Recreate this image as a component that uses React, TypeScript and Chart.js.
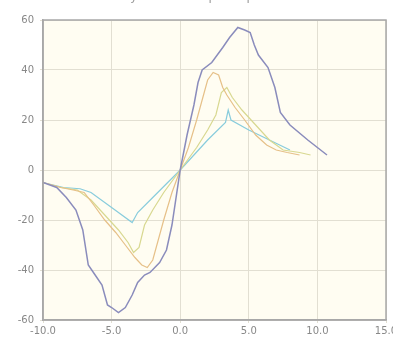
import React, { useEffect, useRef } from "react";
import { Chart, registerables } from "chart.js";

Chart.register(...registerables);

const TITLE = "Hysteresis Loop Sample";

const blueX = [-10, -9, -8.3, -7.6, -7.1, -6.7, -6.2, -5.7, -5.3, -5.0, -4.5, -4.0, -3.5, -3.1, -2.6, -2.2, -1.5, -1.0, -0.6, 0, 0.5, 1.0, 1.3, 1.6, 2.3, 3.1, 3.6, 4.2, 4.7, 5.1, 5.4, 5.7, 6.4, 6.9, 7.3, 8.0, 9.3, 10.7];
const blueY = [-5, -7, -11, -16, -24, -38, -42, -46, -54, -55, -57, -55, -50, -45, -42, -41, -37, -32, -22, 0, 14, 26, 35, 40, 43, 49, 53, 57, 56, 55, 50, 46, 41, 33, 23, 18, 12, 6];

const orangeX = [-10, -8.7, -7.8, -7.0, -6.3, -5.5, -4.7, -4.0, -3.3, -2.8, -2.4, -2.0, -1.6, -1.2, -0.6, 0, 0.6, 1.2, 1.6, 2.0, 2.4, 2.8, 3.1, 3.4, 4.0, 4.7, 5.5, 6.3, 7.0, 7.8, 8.7];
const orangeY = [-5, -7, -8, -9, -14, -20, -25, -30, -35, -38, -39, -36, -28, -20, -9, 0, 9, 20, 28, 36, 39, 38, 33, 30, 25, 20, 14, 10, 8, 7, 6];

const yellowX = [-10, -8.7, -7.5, -6.5, -5.5, -4.5, -3.8, -3.4, -3.0, -2.6, -2.0, -1.2, 0, 1.2, 2.0, 2.6, 3.0, 3.4, 3.8, 4.5, 5.5, 6.5, 7.5, 8.7, 9.5];
const yellowY = [-5, -7, -8, -12, -18, -24, -29, -33, -31, -22, -16, -9, 0, 9, 16, 22, 31, 33, 29, 24, 18, 12, 8, 7, 6];

const cyanX = [-10, -8.5, -7.3, -6.5, -5.0, -3.5, -3.1, -2.0, 0, 2.0, 3.3, 3.5, 3.7, 5.0, 6.5, 8.0];
const cyanY = [-5, -7, -7.5, -9, -15, -21, -17, -11, 0, 12, 19, 24, 20, 16, 12, 8];

const X_TICKS = [-10, -5, 0, 5, 10, 15];
const Y_TICKS = [-60, -40, -20, 0, 20, 40, 60];

const toPts = (xs: number[], ys: number[]) => xs.map((x, i) => ({ x, y: ys[i] }));

const framePlugin = {
  id: "frame",
  beforeDraw(chart: any) {
    const { ctx, chartArea: a } = chart;
    ctx.save();
    ctx.fillStyle = "#fffdf2";
    ctx.fillRect(a.left, a.top, a.right - a.left, a.bottom - a.top);
    ctx.restore();
  },
  afterDatasetsDraw(chart: any) {
    const { ctx, chartArea: a } = chart;
    ctx.save();
    ctx.strokeStyle = "#a8a8a8";
    ctx.lineWidth = 1.5;
    ctx.strokeRect(a.left, a.top, a.right - a.left, a.bottom - a.top);
    ctx.restore();
  },
};

export default function App() {
  const ref = useRef<HTMLCanvasElement | null>(null);
  useEffect(() => {
    if (!ref.current) return;
    const mk = (label: string, xs: number[], ys: number[], color: string, w: number) => ({
      label,
      data: toPts(xs, ys),
      showLine: true,
      borderColor: color,
      backgroundColor: color,
      borderWidth: w,
      pointRadius: 0,
      tension: 0,
      fill: false,
    });
    const chart = new Chart(ref.current, {
      type: "scatter",
      data: {
        datasets: [
          mk("A", blueX, blueY, "#8a8cbc", 1.5),
          mk("B", orangeX, orangeY, "#e6c088", 1.2),
          mk("C", yellowX, yellowY, "#d8d890", 1.2),
          mk("D", cyanX, cyanY, "#88ccdc", 1.2),
        ],
      },
      options: {
        responsive: false,
        animation: false,
        layout: { padding: { top: 0, right: 14, bottom: 5, left: 0 } },
        plugins: {
          legend: { display: false },
          tooltip: { enabled: false },
          title: {
            display: true,
            text: TITLE,
            color: "#9a9a9a",
            font: { family: "DejaVu Sans", size: 12, weight: "normal", lineHeight: 1.2 },
            padding: { top: 0, bottom: 15.6 },
          },
        },
        scales: {
          x: {
            type: "linear",
            min: -10,
            max: 15,
            afterBuildTicks: (s: any) => {
              s.ticks = X_TICKS.map((v) => ({ value: v }));
            },
            afterFit: (s: any) => {
              s.height = 25;
            },
            ticks: {
              color: "#888",
              font: { family: "DejaVu Sans", size: 10 },
              padding: 2,
              maxRotation: 0,
              callback: (v: any) => Number(v).toFixed(1),
            },
            grid: { color: "#e2dfd2", tickLength: 3, drawTicks: true },
            border: { color: "#a8a8a8", width: 1.5 },
          },
          y: {
            type: "linear",
            min: -60,
            max: 60,
            afterBuildTicks: (s: any) => {
              s.ticks = Y_TICKS.map((v) => ({ value: v }));
            },
            afterFit: (s: any) => {
              s.width = 43;
            },
            ticks: {
              color: "#888",
              font: { family: "DejaVu Sans", size: 10 },
              padding: 6,
              callback: (v: any) => String(v),
            },
            grid: { color: "#e2dfd2", tickLength: 3, drawTicks: true },
            border: { color: "#a8a8a8", width: 1.5 },
          },
        },
      },
      plugins: [framePlugin],
    });
    return () => chart.destroy();
  }, []);
  return (
    <div style={{ position: "fixed", left: 0, top: 0, width: 393, height: 348, overflow: "hidden", background: "#fff" }}>
      <canvas ref={ref} width={400} height={360} style={{ position: "absolute", left: 0, top: -10 }} />
    </div>
  );
}
